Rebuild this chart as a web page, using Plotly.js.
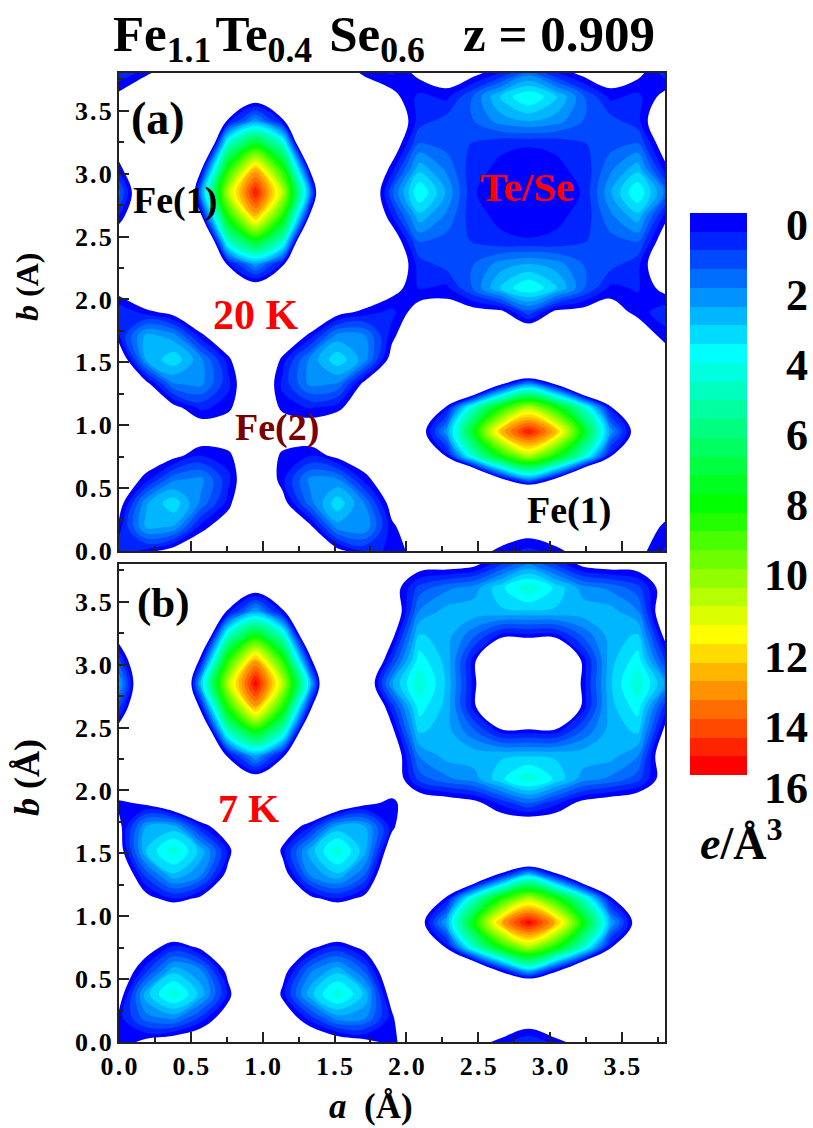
<!DOCTYPE html>
<html><head><meta charset="utf-8">
<script src="https://cdn.plot.ly/plotly-3.0.1.min.js"></script>
<style>html,body{margin:0;padding:0;background:#fff}#c{width:813px;height:1128px}</style></head>
<body><div id="c"></div>
<script>
var gridA = [0,.19,.38,.57,.76,.95,1.14,1.33,1.52,1.71,1.9,2.09,2.28,2.47,2.66,2.85,3.04,3.23,3.42,3.61,3.8];
// panel (a) 20 K, rows from b = 0 upward
var densityA = [
[1,.3,-.5,-1,-1.5,-2,-1.5,-1,-.3,.6,.5,-.5,-1,-.5,.25,.7,.25,-.5,-1,-.3,.6],
[.25,2.8,2.6,.3,-.7,-2,-1.3,-.25,2.4,2.6,.2,-1,-2,-2,-1,-.6,-1,-2,-2,-1,.25],
[-.5,2.6,3.6,2,.3,-2,-.4,1.9,3.6,2.1,-.5,-2,-3,-6,-3,-8,-3,-6,-3,-2,-.8],
[-1,.3,2,2.3,.7,-1.5,.4,2.3,2.2,.3,-1,-3,-4,-4.5,-.3,2.3,-.3,-4.5,-4,-3,-2.5],
[-2,-.8,-.3,.5,.25,-1.5,.25,.5,-.3,-.8,-1.5,-3,.25,5,8.5,11,8.5,5,.25,-3,-3],
[-3,-2,-1.2,-.8,-1,-2.5,-1,-.8,-1.2,-2,-3,-.8,2.5,8,13,15.5,13,8,2.5,-.8,-3],
[-3,-1.5,-.3,.7,.25,-1.5,.25,.6,.25,-.9,-3,-3,.25,5,8.5,11,8.5,5,.25,-3,-3],
[-2,-.3,2.1,2.3,.7,-1.5,.7,2.3,2.1,-.3,-2,-3,-4,-4.5,-.3,2.3,-.3,-4.5,-4,-3,-2],
[-1.2,2.7,3.6,2.3,.3,-2.5,.3,2.3,3.6,2.4,-.5,-3,-3,-6,-3,-8,-3,-6,-3,-3,-.7],
[.5,2.9,2.4,.3,-1.5,-2.5,-1.5,.3,2.4,2.2,.25,-1.5,-2.5,-2.5,-2,-1.5,-2,-2.5,-2.5,-.8,.3],
[1,.25,-.4,-2,-2.5,-3,-2.5,-2,-.4,.25,.7,-.5,-.5,-.4,-.25,1.4,-.25,-.4,-.5,.25,.9],
[-.5,-2,-3,-3,-3,-.8,-3,-3,-3,-1.5,-.4,.6,.4,1.7,3.3,4.3,3.3,1.7,.4,.6,-.3],
[-2,-3,-3,-4,.25,2.5,.25,-4,-3,-3,-1.2,.8,1.3,1.6,2.4,2.7,2.4,1.6,1.3,.7,-1.2],
[-1,-2.5,-6,-4.5,5,8,5,-4.5,-6,-3,-.8,1.7,1.4,1,.6,.55,.6,1,1.4,1.7,-.7],
[.5,-2,-3,-.3,8.5,13,8.5,-.3,-3,-2,.5,3,2,.65,.45,.4,.45,.65,2,3,.3],
[1.8,-2,-8,2.3,11,15.5,11,2.3,-8,-2,1.5,4.3,2.6,.55,.4,.35,.4,.55,2.6,4.3,2],
[.3,-2,-3,-.3,8.5,13,8.5,-.3,-3,-2,.3,3,2,.65,.45,.4,.45,.65,2,3,.3],
[-.7,-2.5,-6,-4.5,5,8,5,-4.5,-6,-2.5,-.8,1.7,1.4,1,.6,.55,.6,1,1.4,1.7,-.7],
[-2,-3,-3,-4,.25,2.5,.25,-4,-3,-2.5,-1.2,.8,1.3,1.6,2.4,2.7,2.4,1.6,1.3,.7,-1.2],
[-.3,-2,-3,-3,-3,-.8,-3,-3,-2.5,-1.5,-.3,.7,.4,1.7,3.3,4.3,3.3,1.7,.4,.7,-.3],
[1,.25,-1,-2,-3,-3,-3,-2,-1,.25,.6,-.25,-.7,-.3,.6,1.9,.6,-.3,-.7,-.25,.8]
];
// panel (b) 7 K, rows from b = 0 upward
var densityB = [
[.5,-.3,-.8,-1.2,-2,-3,-2,-1.5,-.8,-.3,.25,-1,-1.5,-.5,.3,1,.3,-.5,-1.5,-2,-2],
[.3,1.9,2.3,.9,-.8,-2.5,-1,.8,2.4,2.2,.25,-3,-2,-2,-1.5,-.8,-1.5,-2,-2,-3,-3],
[-.6,3,4.6,3,.4,-3,.3,3,4.6,3.1,-.7,-3,-3,-5,-3,-6,-3,-5,-3,-3,-3],
[-1.2,.9,3,2.2,-.4,-3,-.5,2,3,1.5,-1.5,-3,-3,-3,.3,3.2,.3,-3,-3,-3,-3],
[-2.5,-.7,.6,-.3,-1.2,-3,-1.2,-.3,.6,-.4,-2,-2,.25,5,8.6,11,8.6,5,.25,-2,-3],
[-3,-1.5,-2.5,-1.5,-2.5,-3.5,-2.5,-1.5,-2.5,-1.5,-3,-.7,2.8,8.2,13.2,15.8,13.2,8.2,2.8,-.7,-3],
[-2.5,-.4,.5,-.25,-1.5,-3,-1.5,-.3,.5,-.3,-2,-2,.25,5,8.6,11,8.6,5,.25,-2,-3],
[-1.5,1.3,3.1,2.2,-.4,-3,-.6,2.2,3.1,1.6,-2,-3,-3,-3,.3,3.2,.3,-3,-3,-3,-3],
[-.6,3.2,4.6,3,.4,-3,.3,2.9,4.6,2.9,-1,-3,-3,-5,-3,-6,-3,-5,-3,-3,-3],
[-.3,2.7,2.9,.6,-1,-2.5,-1,.6,2.9,2.8,.25,-2,-2.5,-2,-1,-1.2,-1,-2,-2.5,-2,-2.5],
[.25,-.25,-1.5,-2.5,-3,-3,-3,-2.5,-1.5,-.3,.25,-1,-.7,-.3,.7,1.6,.7,-.3,-.7,-1,-1.5],
[-2,-3,-3,-3,-2,-.7,-2,-3,-3,-2.5,-1,1.3,2,2.4,3.6,4.7,3.6,2.4,2,1.3,-.6],
[-2,-3,-3,-3,.25,2.8,.25,-3,-3,-3,-1.2,2.2,2.9,3,3.1,3.1,3.1,3,2.9,2.2,-1.2],
[-.6,-2.5,-5,-3,5,8.2,5,-3,-5,-3,-.3,3.3,2.9,1.7,.3,.3,.3,1.7,2.9,3.3,-.3],
[1.2,-2.5,-3,.3,8.6,13.2,8.6,.3,-3,-2.5,.8,4,3,.3,-3,-3,-3,.3,3,4,.8],
[2.8,-2.5,-6,3.2,11,15.8,11,3.2,-6,-1.5,2.6,4.7,3.1,.3,-3,-4,-3,.3,3.1,4.7,2.6],
[1.2,-2.5,-3,.3,8.6,13.2,8.6,.3,-3,-2.5,1,4,3,.3,-3,-3,-3,.3,3,4,1],
[-.6,-2.5,-5,-3,5,8.2,5,-3,-5,-3,-.3,3.3,2.9,1.7,.3,.3,.3,1.7,2.9,3.3,-.3],
[-2,-3,-3,-3,.25,2.8,.25,-3,-3,-3,-1.2,2.2,2.9,3,3.1,3.1,3.1,3,2.9,2.2,-1.2],
[-2,-3,-3,-3,-2,-.7,-2,-3,-3,-2.5,-.6,1.3,2,2.4,3.6,4.7,3.6,2.4,2,1.3,-.6],
[-2,-3,-3,-3,-3,-3,-3,-3,-3,-2,-.7,-.6,-.6,-.3,1,2.2,1,-.3,-.6,-.6,-.7]
];
var barTickVals = [0,2,4,6,8,10,12.34,14.34,16.06];
var barTickText = ['0','2','4','6','8','10','12','14','16'];
var axisTicks = [0,.5,1,1.5,2,2.5,3,3.5];

var W=813,H=1128, SERIF='"Liberation Serif", serif';
var bands=30, levelStep=16/bands;
function px(a,b){return [a/W,b/W];}
function py(top,bot){return [(H-bot)/H,(H-top)/H];}
var stops=[[0,'#ffffff'],[0.016,'#ffffff'],[0.0161,'#0000ff'],[1/30,'#0000ff'],[8/30,'#00ffff'],[16/30,'#00ff00'],[23/30,'#ffff00'],[1,'#ff0000']];
function contour(z,xa,ya){return {type:'contour',x:gridA,y:gridA,z:z,xaxis:xa,yaxis:ya,autocontour:false,
  contours:{coloring:'fill',start:0,end:15.99,size:levelStep,showlines:false},line:{width:0,smoothing:1},
  colorscale:stops,showscale:false,hoverinfo:'skip'};}
var barZ=[];for(var i=0;i<bands;i++)barZ.push([(i+.5)*levelStep]);
var barTop=-0.34,barBottom=15.71,barCell=(barBottom-barTop)/bands;
var bar={type:'heatmap',z:barZ,x:[0],y0:barTop+barCell/2,dy:barCell,xaxis:'x3',yaxis:'y3',colorscale:stops,
  zmin:-levelStep/2,zmax:29.5*levelStep,showscale:false,hoverinfo:'skip'};
var tf={family:SERIF,size:26,color:'#000',weight:700};
var HS='\u200A';
function ax(extra){return Object.assign({range:[0,3.8],tickvals:axisTicks,ticktext:axisTicks.map(function(v){return v.toFixed(1).split('').join(HS);}),
  ticks:'inside',ticklen:10,tickwidth:2,tickcolor:'#222',showline:true,linecolor:'#222',linewidth:2,mirror:true,zeroline:false,showgrid:false,
  tickfont:tf,minor:{tickvals:[.25,.75,1.25,1.75,2.25,2.75,3.25,3.75],ticks:'inside',ticklen:5,tickwidth:2,tickcolor:'#222'}},extra);}
var layout={width:W,height:H,margin:{l:0,r:0,t:0,b:0},paper_bgcolor:'#fff',plot_bgcolor:'#fff',showlegend:false,
 title:{text:'<b>Fe<sub>1.1</sub>'+HS+'Te<sub>0.4</sub> '+HS+'Se<sub>0.6</sub>   z = 0.909</b>',font:{family:SERIF,size:51,color:'#000'},x:384/W,xanchor:'center',y:1-33/H,yanchor:'middle'},
 xaxis:ax({domain:px(119,665),anchor:'y',showticklabels:false}),
 yaxis:ax({domain:py(73,551),anchor:'x'}),
 xaxis2:ax({domain:px(119,665),anchor:'y2'}),
 yaxis2:ax({domain:py(564,1042),anchor:'x2'}),
 xaxis3:{domain:px(690,747),anchor:'y3',visible:false,range:[-.5,.5],fixedrange:true},
 yaxis3:{domain:py(213,805),anchor:'free',position:808/W,side:'left',range:[16.57,-0.34],tickvals:barTickVals,ticktext:barTickText,
   tickfont:{family:SERIF,size:44,color:'#000',weight:700},ticks:'',showline:false,showgrid:false,zeroline:false},
 annotations:[
  {text:'<b>(a)</b>',x:.27,y:3.44,xref:'x',yref:'y',font:{family:SERIF,size:46,color:'#000'}},
  {text:'<b>Fe(1)</b>',x:.39,y:2.79,xref:'x',yref:'y',font:{family:SERIF,size:38,color:'#000'}},
  {text:'<b>20 K</b>',x:.95,y:1.88,xref:'x',yref:'y',font:{family:SERIF,size:42,color:'#ff0000'}},
  {text:'<b>Fe(2)</b>',x:1.10,y:.98,xref:'x',yref:'y',font:{family:SERIF,size:38,color:'#7a0000'}},
  {text:'<b>Te/Se</b>',x:2.84,y:2.89,xref:'x',yref:'y',font:{family:SERIF,size:41,color:'#ff0000'}},
  {text:'<b>Fe(1)</b>',x:3.13,y:.32,xref:'x',yref:'y',font:{family:SERIF,size:38,color:'#000'}},
  {text:'<b>(b)</b>',x:.31,y:3.49,xref:'x2',yref:'y2',font:{family:SERIF,size:43,color:'#000'}},
  {text:'<b>7 K</b>',x:.90,y:1.86,xref:'x2',yref:'y2',font:{family:SERIF,size:40,color:'#ff0000'}},
  {text:'<b><i>e</i>/Å<sup>3</sup></b>',x:741/W,y:1-840/H,xref:'paper',yref:'paper',font:{family:SERIF,size:46,color:'#000'}},
  {text:'<b><i>b</i> (A)</b>',x:27/W,y:1-287/H,xref:'paper',yref:'paper',textangle:-90,font:{family:SERIF,size:32,color:'#000'}},
  {text:'<b><i>b</i> (Å)</b>',x:27/W,y:1-778/H,xref:'paper',yref:'paper',textangle:-90,font:{family:SERIF,size:36,color:'#000'}},
  {text:'<b><i>a</i>  (Å)</b>',x:371/W,y:1-1106/H,xref:'paper',yref:'paper',font:{family:SERIF,size:35,color:'#000'}}
 ].map(function(a){a.showarrow=false;a.xanchor='center';a.yanchor='middle';return a;})
};
Plotly.newPlot('c',[contour(densityA,'x','y'),contour(densityB,'x2','y2'),bar],layout,{staticPlot:true,displayModeBar:false});
</script></body></html>
